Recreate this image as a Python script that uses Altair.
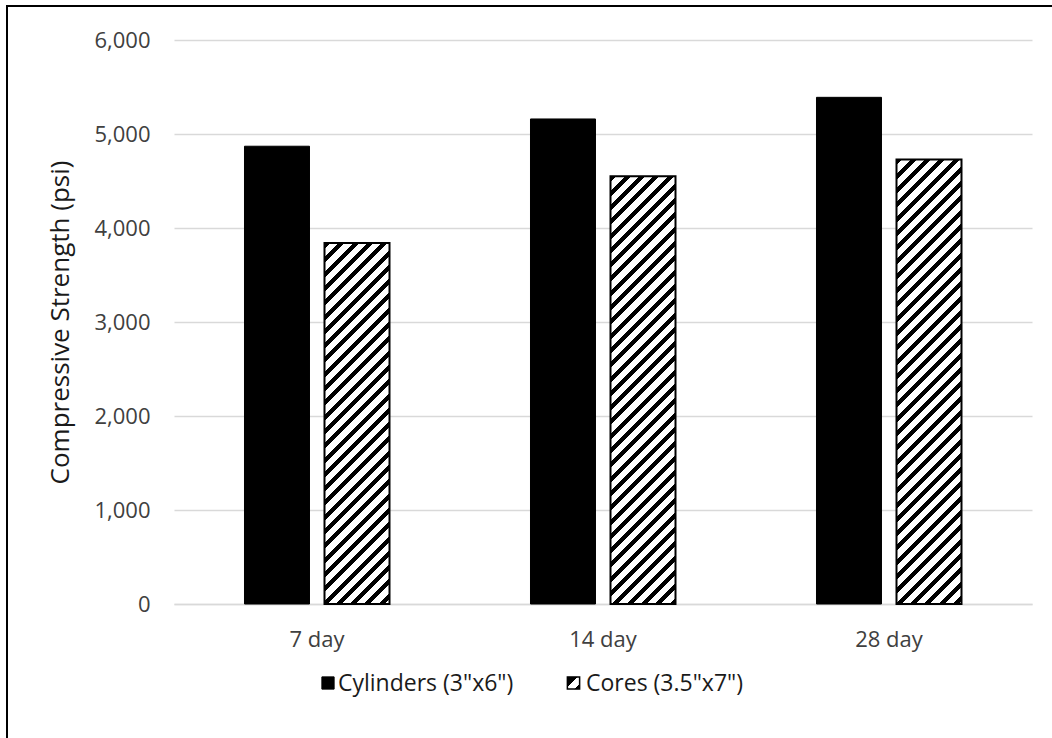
import altair as alt
import pandas as pd

# Compressive strength of cast cylinders vs. drilled cores at three ages
ages = ["7 day", "14 day", "28 day"]
series = ['Cylinders (3"x6")', 'Cores (3.5"x7")']
cylinders = [4870, 5160, 5390]
cores = [3840, 4550, 4730]
y_ticks = [0, 1000, 2000, 3000, 4000, 5000, 6000]

# plot-area geometry (pixels)
PLOT_W, PLOT_H = 858, 564
Y_MAX = 6000
GROUP_PAD = 0.493      # band padding between age groups
PAIR_PAD = 0.1875      # gap between the two bars of a group
FONT = "Open Sans"
TEXT = "#404040"
GRID = "#d9d9d9"

rows = []
for i, a in enumerate(ages):
    rows.append({"age": a, "series": series[0], "value": cylinders[i]})
    rows.append({"age": a, "series": series[1], "value": cores[i]})
df = pd.DataFrame(rows)

# widths derived from the band scales above
group_w = PLOT_W / len(ages) * (1 - GROUP_PAD)
bar_w = group_w / (2 - PAIR_PAD) * (1 - PAIR_PAD)


def hatch(w, h, period=14.3, ink=6.0):
    """Diagonal '/' stripes as a sharp-stop linear gradient over a w x h box."""
    span = w + h
    k = span / (w * w + h * h)
    stops = []
    c = 0.0
    while c < span - 1e-9:
        a = c / span
        b = min((c + ink) / span, 1.0)
        e = min((c + period) / span, 1.0)
        stops += [
            alt.GradientStop(offset=a, color="black"),
            alt.GradientStop(offset=b, color="black"),
            alt.GradientStop(offset=b, color="white"),
            alt.GradientStop(offset=e, color="white"),
        ]
        c += period
    return alt.LinearGradient(gradient="linear", x1=0, y1=0, x2=k * w, y2=k * h, stops=stops)


x_enc = alt.X(
    "age:N",
    sort=ages,
    scale=alt.Scale(domain=ages, paddingInner=GROUP_PAD, paddingOuter=GROUP_PAD / 2),
    axis=alt.Axis(
        title=None, labelAngle=0, ticks=False, domain=True, domainColor=GRID,
        domainWidth=1.5, labelPadding=25, labelFontSize=22, labelFont=FONT,
        labelColor=TEXT, grid=False,
    ),
)
xo_enc = alt.XOffset(
    "series:N", sort=series,
    scale=alt.Scale(domain=series, paddingInner=PAIR_PAD, paddingOuter=0),
)
y_enc = alt.Y(
    "value:Q",
    scale=alt.Scale(domain=[0, Y_MAX], nice=False),
    axis=alt.Axis(
        title="Compressive Strength (psi)", values=y_ticks, format=",.0f",
        ticks=False, domain=False, grid=True, gridColor=GRID, gridWidth=1.5,
        labelPadding=24, labelFontSize=22, labelFont=FONT, labelColor=TEXT,
        titleFontSize=26, titleFont=FONT, titleFontWeight="normal",
        titleColor="#1a1a1a", titlePadding=20,
    ),
)

base = alt.Chart(df).encode(x=x_enc, xOffset=xo_enc, y=y_enc)

layers = [
    base.transform_filter(alt.FieldEqualPredicate(field="series", equal=series[0]))
    .mark_bar(fill="black", stroke="black", strokeWidth=1)
]
for i, a in enumerate(ages):
    h = cores[i] / Y_MAX * PLOT_H
    layers.append(
        base.transform_filter(alt.FieldEqualPredicate(field="series", equal=series[1]))
        .transform_filter(alt.FieldEqualPredicate(field="age", equal=a))
        .mark_bar(fill=hatch(bar_w, h), stroke="black", strokeWidth=2)
    )

one = alt.Chart(pd.DataFrame({"k": [0]}))

# outer frame (top and left edges)
frame_left = one.mark_rule(color="black", strokeWidth=2).encode(
    x=alt.value(-167), y=alt.value(-34), y2=alt.value(720)
)
frame_top = one.mark_rule(color="black", strokeWidth=2).encode(
    x=alt.value(-168), x2=alt.value(900), y=alt.value(-34)
)

# legend below the plot
LEG_Y = 643
key_cyl = one.mark_square(size=150, fill="black", stroke="black", strokeWidth=1, opacity=1).encode(
    x=alt.value(154), y=alt.value(LEG_Y)
)
txt_cyl = one.mark_text(align="left", baseline="middle", fontSize=23, font=FONT, color="#1a1a1a").encode(
    x=alt.value(164), y=alt.value(LEG_Y + 1), text=alt.value(series[0])
)
key_core = one.mark_square(
    size=150, opacity=1, stroke="black", strokeWidth=1.5,
    fill=alt.LinearGradient(
        gradient="linear", x1=0, y1=0, x2=1, y2=1,
        stops=[
            alt.GradientStop(offset=0, color="black"),
            alt.GradientStop(offset=0.4, color="black"),
            alt.GradientStop(offset=0.4, color="white"),
            alt.GradientStop(offset=0.78, color="white"),
            alt.GradientStop(offset=0.78, color="black"),
            alt.GradientStop(offset=1, color="black"),
        ],
    ),
).encode(x=alt.value(399.5), y=alt.value(LEG_Y))
txt_core = one.mark_text(align="left", baseline="middle", fontSize=23, font=FONT, color="#1a1a1a").encode(
    x=alt.value(412), y=alt.value(LEG_Y + 1), text=alt.value(series[1])
)

chart = (
    alt.layer(*layers, frame_left, frame_top, key_cyl, txt_cyl, key_core, txt_core)
    .properties(
        width=PLOT_W, height=PLOT_H,
        padding={"left": 174, "top": 40, "right": 20, "bottom": 134},
        autosize=alt.AutoSizeParams(type="none"),
        background="white",
    )
    .configure_view(stroke=None)
)

chart.save("out.html", embed_options={"renderer": "svg", "actions": False})
